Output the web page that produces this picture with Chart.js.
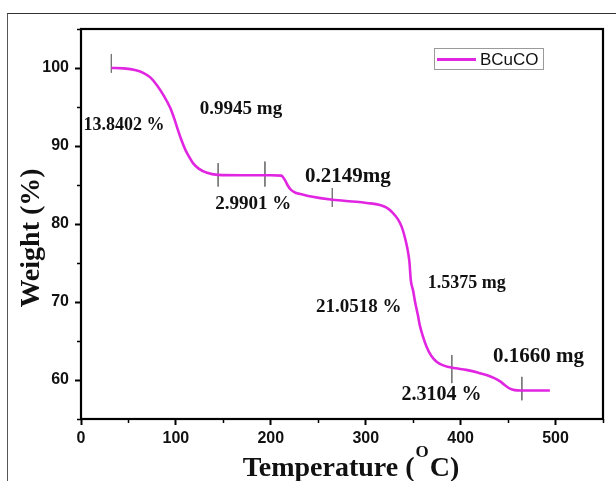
<!DOCTYPE html>
<html>
<head>
<meta charset="utf-8">
<script src="https://cdn.jsdelivr.net/npm/chart.js@4.4.1/dist/chart.umd.min.js"></script>
<style>
  html, body { margin: 0; padding: 0; background: #fff; }
  #wrap { position: relative; width: 616px; height: 481px; overflow: hidden; }
  #frame { position: absolute; left: 7px; top: 13px; width: 620px; height: 480px;
           border-left: 1px solid #555; border-top: 1px solid #333; }
  canvas { position: absolute; left: 0; top: 0; }
</style>
</head>
<body>
<div id="wrap">
  <div id="frame"></div>
  <canvas id="tga" width="616" height="481"></canvas>
</div>
<script>
// TGA curve of BCuCO
const seriesName = "BCuCO";
const tempC = [32, 45, 58, 66, 73, 80, 87, 94, 98, 102,
  106, 110, 114, 118, 124, 132, 144, 170, 200, 211,
  215, 218, 221, 226, 231, 241, 265, 290, 301, 315,
  322, 328, 334, 338, 341, 344, 346, 347.5, 350, 352,
  355, 357, 360, 364, 369, 375, 381, 386, 395, 406,
  418, 428, 436, 442, 447, 452, 457, 463, 475, 494];
const weightPct = [100.0, 99.95, 99.7, 99.35, 98.8, 97.8, 96.5, 94.9, 93.6, 92.1,
  90.7, 89.5, 88.6, 87.8, 87.1, 86.6, 86.3, 86.25, 86.25, 86.2,
  85.6, 84.9, 84.4, 84.0, 83.85, 83.55, 83.1, 82.85, 82.7, 82.45,
  82.1, 81.5, 80.6, 79.6, 78.4, 76.8, 75.2, 72.8, 71.4, 70.0,
  68.3, 67.0, 65.7, 64.3, 63.1, 62.3, 61.9, 61.7, 61.5, 61.3,
  60.95, 60.6, 60.2, 59.8, 59.3, 58.9, 58.7, 58.65, 58.65, 58.65];

// step markers (short vertical lines)
const markerTemps = [32, 144.5, 193.8, 264.8, 390.7, 464.5];
const markerTop = [101.8, 87.8, 88.0, 84.6, 63.2, 60.4];
const markerBottom = [99.4, 84.8, 84.8, 82.2, 59.6, 57.4];

// annotations
const noteTexts = ["13.8402 %", "0.9945 mg", "2.9901 %", "0.2149mg",
  "1.5375 mg", "21.0518 %", "0.1660 mg", "2.3104 %"];

const xTicks = [0, 100, 200, 300, 400, 500];
const yTicks = [60, 70, 80, 90, 100];

// layout of the annotations: [center temp, center weight, font px]
const notePlacement = [
  [45.2, 92.6, 18], [168.6, 94.7, 19], [181.5, 82.5, 19], [281.2, 86.1, 21],
  [406.5, 72.4, 18], [292.7, 69.4, 19], [482, 63.0, 21], [379.8, 58.06, 20]
];

const curveColor = "#e126e1";
const serif = "'Liberation Serif', 'Times New Roman', serif";
const sans = "'Liberation Sans', Arial, sans-serif";

const datasets = [{
  label: seriesName,
  data: tempC.map((t, i) => ({ x: t, y: weightPct[i] })),
  borderColor: curveColor,
  borderWidth: 2.6,
  pointRadius: 0,
  cubicInterpolationMode: "monotone",
  order: 0
}];
markerTemps.forEach((t, i) => {
  datasets.push({
    label: "_marker" + i,
    data: [{ x: t, y: markerTop[i] }, { x: t, y: markerBottom[i] }],
    borderColor: "#777",
    borderWidth: 1,
    pointRadius: 0,
    order: 1
  });
});

const extras = {
  id: "extras",
  afterDraw(chart) {
    const { ctx, chartArea: a, scales: { x, y } } = chart;
    ctx.save();

    // minor ticks
    ctx.strokeStyle = "#000";
    ctx.lineWidth = 1.5;
    ctx.beginPath();
    x.ticks.forEach(t => {
      if (xTicks.includes(t.value)) return;
      const px = Math.round(x.getPixelForValue(t.value)) + 0.5;
      ctx.moveTo(px, a.bottom); ctx.lineTo(px, a.bottom + 4);
    });
    y.ticks.forEach(t => {
      if (yTicks.includes(t.value)) return;
      const py = Math.round(y.getPixelForValue(t.value)) + 0.5;
      ctx.moveTo(a.left, py); ctx.lineTo(a.left - 4, py);
    });
    ctx.stroke();

    // plot frame
    ctx.lineWidth = 2.2;
    ctx.strokeRect(a.left, a.top, a.right - a.left, a.bottom - a.top);

    // annotations
    ctx.fillStyle = "#111";
    ctx.textAlign = "center";
    ctx.textBaseline = "middle";
    noteTexts.forEach((txt, i) => {
      const [t, w, fs] = notePlacement[i];
      ctx.font = "bold " + fs + "px " + serif;
      ctx.fillText(txt, x.getPixelForValue(t), y.getPixelForValue(w));
    });

    // legend
    ctx.strokeStyle = "#9a9a9a";
    ctx.lineWidth = 1;
    ctx.strokeRect(434.5, 48.5, 109, 21);
    ctx.strokeStyle = curveColor;
    ctx.lineWidth = 3;
    ctx.beginPath(); ctx.moveTo(437, 59.5); ctx.lineTo(476, 59.5); ctx.stroke();
    ctx.fillStyle = "#111";
    ctx.font = "17px " + sans;
    ctx.textAlign = "left";
    ctx.fillText(seriesName, 480, 60);

    // axis titles
    ctx.fillStyle = "#111";
    ctx.font = "bold 28px " + serif;
    ctx.textBaseline = "alphabetic";
    ctx.save();
    ctx.translate(39, 238);
    ctx.rotate(-Math.PI / 2);
    ctx.textAlign = "center";
    ctx.fillText("Weight (%)", 0, 0);
    ctx.restore();

    const partA = "Temperature (", partB = "O", partC = "C)";
    ctx.font = "bold 28px " + serif;
    const wA = ctx.measureText(partA).width, wC = ctx.measureText(partC).width;
    ctx.font = "bold 17px " + serif;
    const wB = ctx.measureText(partB).width;
    let sx = 351 - (wA + wB + wC + 2) / 2;
    const base = 476;
    ctx.textAlign = "left";
    ctx.font = "bold 28px " + serif;
    ctx.fillText(partA, sx, base);
    sx += wA + 1;
    ctx.font = "bold 17px " + serif;
    ctx.fillText(partB, sx, base - 19);
    sx += wB + 1;
    ctx.font = "bold 28px " + serif;
    ctx.fillText(partC, sx, base);

    ctx.restore();
  }
};

new Chart(document.getElementById("tga"), {
  type: "line",
  data: { datasets: datasets },
  options: {
    responsive: false,
    animation: false,
    devicePixelRatio: 1,
    layout: { padding: { top: 29, right: 13, left: 0, bottom: 0 } },
    plugins: { legend: { display: false }, tooltip: { enabled: false } },
    scales: {
      x: {
        type: "linear",
        min: 0, max: 550,
        ticks: {
          stepSize: 50,
          autoSkip: false,
          maxRotation: 0,
          padding: 4,
          color: "#111",
          font: { family: sans, size: 16, weight: "bold" },
          callback: v => xTicks.includes(v) ? v : ""
        },
        grid: {
          drawOnChartArea: false,
          tickLength: 6,
          tickWidth: 2,
          tickColor: c => xTicks.includes(c.tick.value) ? "#000" : "rgba(0,0,0,0)"
        },
        border: { display: false },
        afterFit: s => { s.height = 62; }
      },
      y: {
        type: "linear",
        min: 55, max: 105,
        ticks: {
          stepSize: 5,
          autoSkip: false,
          padding: 6,
          color: "#111",
          font: { family: sans, size: 16, weight: "bold" },
          callback: v => yTicks.includes(v) ? v : ""
        },
        grid: {
          drawOnChartArea: false,
          tickLength: 6,
          tickWidth: 2,
          tickColor: c => yTicks.includes(c.tick.value) ? "#000" : "rgba(0,0,0,0)"
        },
        border: { display: false },
        afterFit: s => { s.width = 81; }
      }
    }
  },
  plugins: [extras]
});
</script>
</body>
</html>
